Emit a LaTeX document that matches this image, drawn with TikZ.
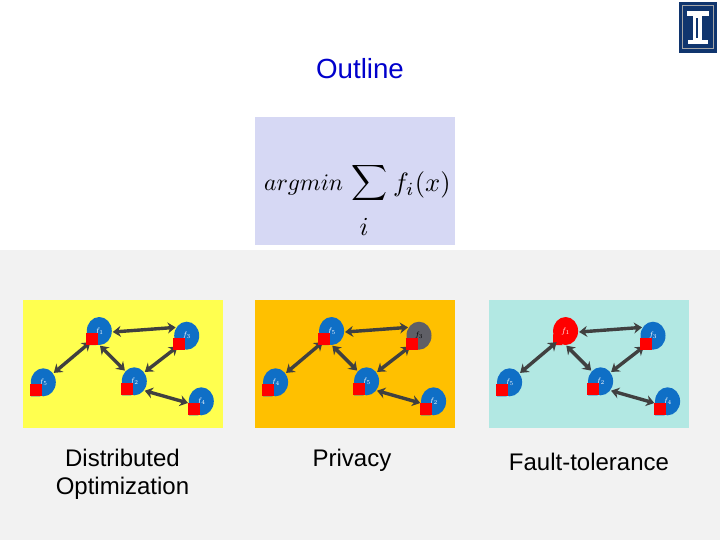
\documentclass[tikz,border=0pt]{standalone}
\usepackage{fontspec}
\setmainfont{Liberation Sans}
\usetikzlibrary{arrows.meta,shapes.geometric,calc}
\definecolor{slidegray}{HTML}{F2F2F2}
\definecolor{panelyellow}{HTML}{FFFF4F}
\definecolor{panelorange}{HTML}{FFC000}
\definecolor{panelteal}{HTML}{B2E8E3}
\definecolor{panellilac}{HTML}{D6D8F4}
\definecolor{blobblue}{HTML}{0F6FC6}
\definecolor{blobgray}{HTML}{5F5F66}
\definecolor{linkdark}{HTML}{404040}
\definecolor{titleblue}{HTML}{0000CC}
\definecolor{logonavy}{HTML}{10356E}
\tikzset{
  blob/.style={ellipse,minimum width=25pt,minimum height=28pt,inner sep=0pt,outer sep=0pt,font=\fontsize{8}{9}\selectfont},
  link/.style={line width=3.4pt,draw=linkdark,{Stealth[length=8pt,width=11pt]}-{Stealth[length=8pt,width=11pt]},shorten <=1pt,shorten >=1pt},
  redsq/.style={fill=red,minimum size=12pt,inner sep=0pt,outer sep=0pt},
  caption/.style={font=\fontsize{24}{28}\selectfont,text=black,align=center,anchor=base},
  mathpart/.style={anchor=base,inner sep=0pt,outer sep=0pt}
}
% #1 name, #2 x, #3 y, #4 fill, #5 text colour, #6 index
\newcommand{\netblob}[6]{%
  \fill[#4] (#2-12.5,#3+14) -- (#2-12.5,#3+3) -- (#2-3,#3+14) -- cycle;
  \node[blob,fill=#4,text=#5] (#1) at (#2,#3) {$f_{#6}$};
}
\newcommand{\netsquare}[1]{\node[redsq] (#1sq) at ($(#1)+(-7.3,8)$) {};}
\newcommand{\netlinks}[1]{%
  \draw[link] (#1a.-5) -- (#1b.140);
  \draw[link] (#1a.232) -- (#1c.42);
  \draw[link] (#1a.270) -- (#1d.131);
  \draw[link] (#1b.231) -- (#1d.42);
  \draw[link] (#1d.-44) -- (#1e.189);
}
\begin{document}
\begin{tikzpicture}[x=1pt,y=-1pt]
\useasboundingbox (0,0) rectangle (720,540);
\fill[white] (0,0) rectangle (720,540);
\fill[slidegray] (0,250) rectangle (720,540);

\node[font=\fontsize{27.7}{32}\selectfont,text=titleblue,anchor=base] (title) at (360,79) {Outline};

% formula panel
\fill[panellilac] (255,117) rectangle (455,245);
\node[mathpart,anchor=base west] (argmin) at (264,191) {\scalebox{2.37}{$argmin$}};
\node[mathpart,anchor=center] (sigma) at (369.5,183.5) {\scalebox{2.5}{$\displaystyle\sum$}};
\node[mathpart,anchor=base west] (fix) at (393,192) {\scalebox{2.65}{$f_i(x)$}};
\node[mathpart] (index) at (364,235.5) {\scalebox{2.6}{$i$}};

% logo
\fill[logonavy] (678.7,2) rectangle (717.3,53);
\draw[gray!70,line width=1pt] (682.7,6) rectangle (713.3,49);
\fill[white] (687,11) rectangle (709,16);
\fill[white] (692.7,16) rectangle (701.7,40);
\fill[logonavy] (696,18) rectangle (698,38);
\fill[white] (688,40) rectangle (708,44.4);

% panel 1
\begin{scope}
\fill[panelyellow] (22.7,300) rectangle (222.7,428.3);
\netblob{pa}{99.3}{331}{blobblue}{white}{1}
\netblob{pb}{186.7}{335.7}{blobblue}{white}{3}
\netblob{pc}{43.3}{382.3}{blobblue}{white}{5}
\netblob{pd}{134.3}{381.3}{blobblue}{white}{2}
\netblob{pe}{201.3}{401.3}{blobblue}{white}{4}
\netlinks{p}
\netsquare{pa}\netsquare{pb}\netsquare{pc}\netsquare{pd}\netsquare{pe}
\end{scope}

% panel 2
\begin{scope}[xshift=232.3pt]
\fill[panelorange] (22.7,300) rectangle (222.7,428.3);
\netblob{qa}{99.3}{331}{blobblue}{white}{5}
\netblob{qb}{186.7}{335.7}{blobgray}{black}{3}
\netblob{qc}{43.3}{382.3}{blobblue}{white}{4}
\netblob{qd}{134.3}{381.3}{blobblue}{white}{5}
\netblob{qe}{201.3}{401.3}{blobblue}{white}{2}
\netlinks{q}
\netsquare{qa}\netsquare{qb}\netsquare{qc}\netsquare{qd}\netsquare{qe}
\end{scope}

% panel 3
\begin{scope}[xshift=466.3pt]
\fill[panelteal] (22.7,300) rectangle (222.7,428.3);
\netblob{ra}{99.3}{331}{red}{white}{1}
\netblob{rb}{186.7}{335.7}{blobblue}{white}{3}
\netblob{rc}{43.3}{382.3}{blobblue}{white}{5}
\netblob{rd}{134.3}{381.3}{blobblue}{white}{2}
\netblob{re}{201.3}{401.3}{blobblue}{white}{4}
\netlinks{r}
\netsquare{rb}\netsquare{rc}\netsquare{rd}\netsquare{re}
\end{scope}

\node[caption] (capa) at (122.5,466) {Distributed};
\node[caption] (capb) at (122.5,494) {Optimization};
\node[caption] (capc) at (352,466) {Privacy};
\node[caption] (capd) at (589,470) {Fault-tolerance};
\end{tikzpicture}
\end{document}
